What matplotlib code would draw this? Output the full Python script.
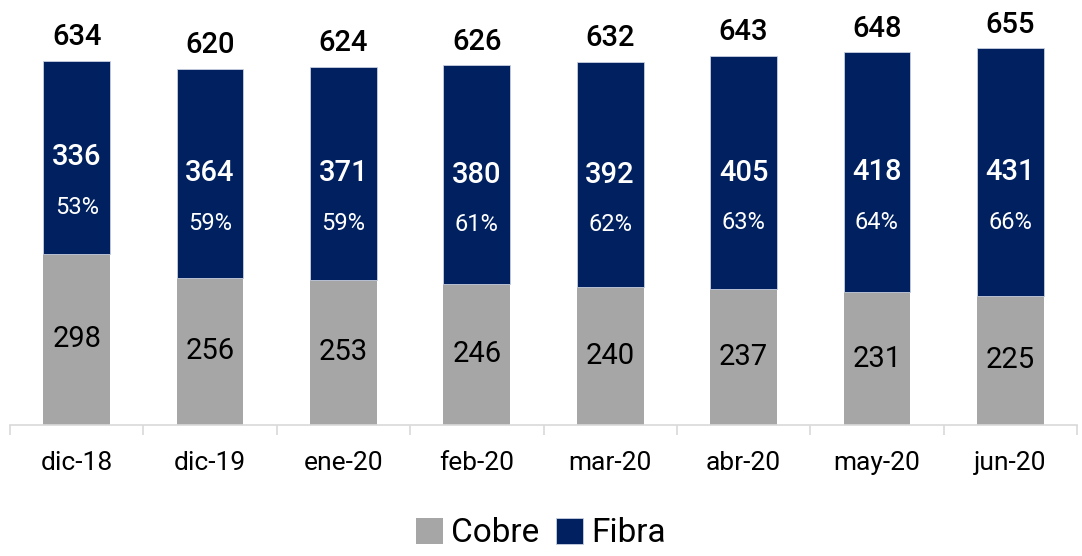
import matplotlib.pyplot as plt
import numpy as np

# data
months = ["dic-18", "dic-19", "ene-20", "feb-20", "mar-20", "abr-20", "may-20", "jun-20"]
cobre = [298, 256, 253, 246, 240, 237, 231, 225]
fibra = [336, 364, 371, 380, 392, 405, 418, 431]
fibra_pct = ["53%", "59%", "59%", "61%", "62%", "63%", "64%", "66%"]
totals = [634, 620, 624, 626, 632, 643, 648, 655]

plt.rcParams["font.family"] = ["Roboto", "DejaVu Sans"]

gray = "#A6A6A6"
navy = "#002060"

fig = plt.figure(figsize=(10.82, 5.56), dpi=100)
ax = fig.add_axes([10 / 1082, 131 / 556, 1067 / 1082, 402 / 556])

x = np.arange(len(months))
b1 = ax.bar(x, cobre, width=0.5, color=gray, label="Cobre")
b2 = ax.bar(x, fibra, width=0.5, bottom=cobre, color=navy, label="Fibra",
            edgecolor="#C9D0E0", linewidth=0.6)

for i in range(len(months)):
    ax.text(x[i], cobre[i] / 2, str(cobre[i]), ha="center", va="center",
            fontsize=21, color="black")
    mid = cobre[i] + fibra[i] / 2
    ax.text(x[i], mid, str(fibra[i]), ha="center", va="center",
            fontsize=21, color="white", fontweight="medium")
    ax.annotate(fibra_pct[i], (x[i], mid), xytext=(0, -36), textcoords="offset points",
                ha="center", va="center", fontsize=17, color="white")
    ax.annotate(str(totals[i]), (x[i], totals[i]), xytext=(0, 7), textcoords="offset points",
                ha="center", va="bottom", fontsize=21, color="black", fontweight="medium")

ax.set_xlim(-0.5, len(months) - 0.5)
ax.set_ylim(0, 700)
ax.set_yticks([])
for s in ["top", "right", "left"]:
    ax.spines[s].set_visible(False)
ax.spines["bottom"].set_color("#D9D9D9")
ax.spines["bottom"].set_linewidth(1.2)

ax.set_xticks(x)
ax.set_xticklabels(months, fontsize=19)
ax.tick_params(axis="x", which="major", length=0, pad=19)
ax.set_xticks(np.arange(-0.5, len(months)), minor=True)
ax.tick_params(axis="x", which="minor", length=7, width=1.2, color="#D9D9D9")

fig.legend(handles=[b1, b2], labels=["Cobre", "Fibra"], loc="lower center",
           bbox_to_anchor=(0.5, -0.042), ncol=2, frameon=False, fontsize=24,
           handlelength=0.8, handleheight=0.8, handletextpad=0.25, columnspacing=0.5)

fig.savefig("out.png", dpi=100)
